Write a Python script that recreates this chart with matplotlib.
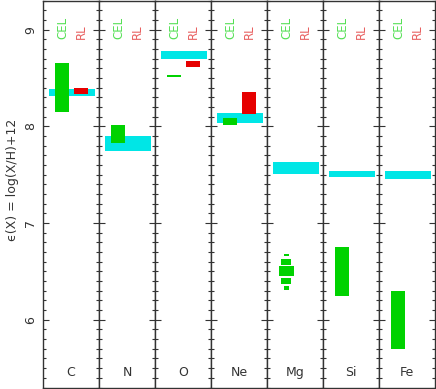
import numpy as np
import matplotlib
matplotlib.use('Agg')
from matplotlib import pyplot as plt
from matplotlib.ticker import MultipleLocator

elements = ['C', 'N', 'O', 'Ne', 'Mg', 'Si', 'Fe']

# solar reference band (low, high)
sol_lo = [8.315, 7.748, 8.70, 8.037, 7.505, 7.48, 7.457]
sol_hi = [8.384, 7.897, 8.78, 8.144, 7.635, 7.542, 7.542]

# CEL abundance ranges (None = no data / drawn separately)
cel_lo = [8.15, 7.83, 8.508, 8.017, None, 6.247, 5.70]
cel_hi = [8.656, 8.01, 8.536, 8.086, None, 6.752, 6.30]

# RL abundance ranges
rl_lo = [8.34, None, 8.62, 8.13, None, None, None]
rl_hi = [8.40, None, 8.68, 8.357, None, None, None]

# Mg CEL: stacked pieces (low, high, relative width)
mg_lo = [6.656, 6.57, 6.45, 6.371, 6.312]
mg_hi = [6.684, 6.629, 6.553, 6.433, 6.346]
mg_w = [0.10, 0.18, 0.26, 0.18, 0.10]

cyan = '#00e6e6'
green = '#00d200'
red = '#e60000'
txtc = '#333333'

fig, axes = plt.subplots(1, len(elements), figsize=(4.36, 3.89), dpi=100, sharey=True)
fig.subplots_adjust(left=43/436, right=435/436, bottom=1.5/389, top=0.998, wspace=0)

for i, ax in enumerate(axes):
    ax.set_xlim(0, 1)
    ax.set_ylim(5.3, 9.3)
    ax.bar(0.515, sol_hi[i]-sol_lo[i], bottom=sol_lo[i], width=0.81, color=cyan, zorder=1)
    if cel_lo[i] is not None:
        ax.bar(0.34, cel_hi[i]-cel_lo[i], bottom=cel_lo[i], width=0.26, color=green, zorder=2)
    if rl_lo[i] is not None:
        ax.bar(0.675, rl_hi[i]-rl_lo[i], bottom=rl_lo[i], width=0.26, color=red, zorder=2)
    if elements[i] == 'Mg':
        for lo, hi, w in zip(mg_lo, mg_hi, mg_w):
            ax.bar(0.345, hi-lo, bottom=lo, width=w, color=green, zorder=2)
    ax.text(0.36, 8.90, 'CEL', rotation=90, ha='center', va='bottom', color='#55e055', fontsize=8.5)
    ax.text(0.68, 8.90, 'RL', rotation=90, ha='center', va='bottom', color='#e86060', fontsize=8.5)
    ax.text(0.5, 5.45, elements[i], ha='center', va='center', color=txtc, fontsize=9)
    ax.set_xticks([])
    ax.yaxis.set_major_locator(MultipleLocator(1))
    ax.yaxis.set_minor_locator(MultipleLocator(0.1))
    ax.tick_params(axis='y', which='both', direction='in', left=True, right=True,
                   color='#333333', width=0.8)
    ax.tick_params(axis='y', which='major', length=4)
    ax.tick_params(axis='y', which='minor', length=2)
    for s in ax.spines.values():
        s.set_color('#333333')
        s.set_linewidth(1.0)
    if i == 0:
        ax.tick_params(axis='y', labelrotation=90, labelsize=9, labelcolor=txtc, pad=4)
        for lab in ax.get_yticklabels():
            lab.set_va('center')
    else:
        ax.tick_params(axis='y', labelleft=False)

fig.text(0.028, 0.537, 'ϵ(X) = log(X/H)+12', rotation=90, ha='center', va='center',
         color=txtc, fontsize=9)

plt.savefig('out.png', dpi=100)
